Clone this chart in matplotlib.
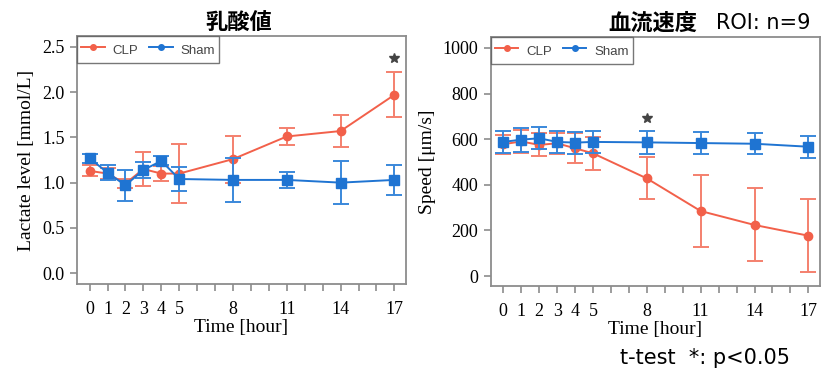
import numpy as np
import matplotlib.pyplot as plt
from matplotlib.lines import Line2D

plt.rcParams['font.family'] = ['Liberation Serif', 'DejaVu Sans']

# time points [hour]
hours = [0, 1, 2, 3, 4, 5, 8, 11, 14, 17]
tick_labels = ['0', '1', '2', '3', '4', '5', '8', '11', '14', '17']

# lactate [mmol/L]
lac_clp = [1.13, 1.10, 0.99, 1.15, 1.10, 1.10, 1.26, 1.51, 1.57, 1.97]
lac_clp_err = [0.06, 0.06, 0.05, 0.19, 0.08, 0.33, 0.26, 0.09, 0.18, 0.25]
lac_sham = [1.27, 1.11, 0.97, 1.14, 1.24, 1.04, 1.03, 1.03, 1.00, 1.03]
lac_sham_err = [0.05, 0.08, 0.17, 0.09, 0.05, 0.13, 0.24, 0.09, 0.24, 0.17]

# blood flow speed [um/s]
spd_clp = [578, 590, 575, 582, 560, 538, 428, 285, 224, 177]
spd_clp_err = [42, 50, 50, 45, 66, 73, 92, 157, 160, 160]
spd_sham = [588, 598, 604, 588, 585, 588, 586, 583, 580, 567]
spd_sham_err = [48, 52, 48, 48, 48, 50, 50, 48, 45, 48]

# significance marks
lac_sig = (17, 2.38)
spd_sig = (8, 695)

red = '#F2604A'
blue = '#1F74D2'
gray = '#8C8C8C'


def draw_panel(ax, clp, clp_err, sham, sham_err, ylim, yticks, ylabel, sig):
    ax.errorbar(hours, clp, yerr=clp_err, color=red, ecolor='#F4806E',
                marker='o', markersize=6, lw=1.4, elinewidth=1.4,
                capsize=6, capthick=1.4, zorder=2)
    ax.errorbar(hours, sham, yerr=sham_err, color=blue, ecolor='#3A88DA',
                marker='s', markersize=7, lw=1.4, elinewidth=1.4,
                capsize=6, capthick=1.4, zorder=3)
    ax.plot(sig[0], sig[1], marker='*', markersize=7, color='#444444',
            ls='none')
    ax.set_xlim(-0.7, 17.65)
    ax.set_ylim(*ylim)
    ax.set_xticks(hours)
    ax.set_xticklabels(tick_labels)
    ax.set_xticks([h for h in range(18) if h not in hours], minor=True)
    ax.set_yticks(yticks)
    ax.tick_params(which='both', direction='out', length=5, width=1.2,
                   color=gray, labelsize=13, pad=4)
    ax.tick_params(axis='x', which='both', pad=7)
    for s in ax.spines.values():
        s.set_color(gray)
        s.set_linewidth(1.3)
    ax.set_xlabel('Time [hour]', fontsize=14, labelpad=1)
    ax.set_ylabel(ylabel, fontsize=14, labelpad=5)
    handles = [Line2D([], [], color=red, marker='o', markersize=4, lw=1.4),
               Line2D([], [], color=blue, marker='o', markersize=4, lw=1.4)]
    leg = ax.legend(handles, ['CLP', 'Sham'], loc='upper left', ncol=2,
                    frameon=True, fancybox=False, borderaxespad=0,
                    handlelength=1.8, handleheight=1.8, columnspacing=0.8,
                    handletextpad=0.6, borderpad=0.3,
                    prop={'family': 'Liberation Sans', 'size': 9.5})
    leg.get_frame().set_edgecolor('#555555')
    leg.get_frame().set_linewidth(1.0)
    for t in leg.get_texts():
        t.set_color('#444444')


fig = plt.figure(figsize=(8.22, 3.81), dpi=100)
ax1 = fig.add_axes([0.0937, 0.2546, 0.4003, 0.6509])
ax2 = fig.add_axes([0.597, 0.249, 0.4006, 0.654])

draw_panel(ax1, lac_clp, lac_clp_err, lac_sham, lac_sham_err,
           (-0.12, 2.62), [0.0, 0.5, 1.0, 1.5, 2.0, 2.5],
           'Lactate level [mmol/L]', lac_sig)
ax1.set_yticklabels(['0.0', '0.5', '1.0', '1.5', '2.0', '2.5'])

draw_panel(ax2, spd_clp, spd_clp_err, spd_sham, spd_sham_err,
           (-44, 1048), [0, 200, 400, 600, 800, 1000],
           'Speed [μm/s]', spd_sig)

fig.text(0.290, 0.94, '乳酸値', ha='center', va='center', fontsize=16,
         fontweight='bold', family=['Noto Sans CJK JP', 'DejaVu Sans'])
fig.text(0.848, 0.94, '血流速度', ha='right', va='center', fontsize=16,
         fontweight='bold', family=['Noto Sans CJK JP', 'DejaVu Sans'])
fig.text(0.871, 0.94, 'ROI: n=9', ha='left', va='center', fontsize=15,
         family=['DejaVu Sans'])
fig.text(0.754, 0.06, 't-test  *: p<0.05', ha='left', va='center',
         fontsize=15, family=['DejaVu Sans'])

fig.savefig('out.png', dpi=100)
